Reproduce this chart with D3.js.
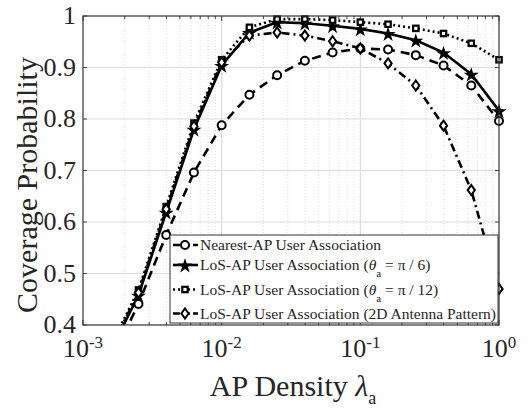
<!DOCTYPE html>
<html>
<head>
<meta charset="utf-8">
<script src="https://cdn.jsdelivr.net/npm/d3@7"></script>
<style>
  body { margin: 0; background: #fff; }
  svg text { font-family: 'Liberation Serif', 'Times New Roman', Times, serif; fill: #262626; }
</style>
</head>
<body>
<div id="graphicContainer"></div>
<script>

// x positions as log10 of AP density
const logX = [-2.8, -2.6, -2.4, -2.2, -2.0, -1.8, -1.6, -1.4, -1.2, -1.0, -0.8, -0.6, -0.4, -0.2, 0]

const nearest = [0.33, 0.441, 0.575, 0.696, 0.788, 0.847, 0.885, 0.913, 0.929, 0.937, 0.935, 0.924, 0.904, 0.865, 0.796]
const losPi6 = [0.35, 0.458, 0.619, 0.780, 0.904, 0.968, 0.988, 0.986, 0.981, 0.975, 0.966, 0.953, 0.929, 0.887, 0.816]
const losPi12 = [0.36, 0.468, 0.630, 0.792, 0.915, 0.978, 0.994, 0.994, 0.992, 0.988, 0.984, 0.976, 0.966, 0.947, 0.915]
const los2D = [0.355, 0.463, 0.625, 0.786, 0.910, 0.962, 0.968, 0.962, 0.951, 0.937, 0.908, 0.865, 0.787, 0.662, 0.470]

const yTicks = [0.4, 0.5, 0.6, 0.7, 0.8, 0.9, 1]
const xTickExp = [-3, -2, -1, 0]

const series = [
  { values: nearest, marker: "circle", dash: "9,6", label: "Nearest-AP User Association" },
  { values: losPi6, marker: "star", dash: null, label: "LoS-AP User Association (", theta: "6" },
  { values: losPi12, marker: "square", dash: "2,3", label: "LoS-AP User Association (", theta: "12" },
  { values: los2D, marker: "diamond", dash: "8,4,2,4", label: "LoS-AP User Association (2D Antenna Pattern)" }
]

const W = 529, H = 409
const margin = { left: 83, right: 30, top: 16, bottom: 84 }
const width = W - margin.left - margin.right
const height = H - margin.top - margin.bottom

const svg = d3.select("#graphicContainer").append("svg")
  .attr("width", W)
  .attr("height", H)
  .attr("font-family", "'Liberation Serif', 'Times New Roman', serif")

const x = d3.scaleLog().domain([1e-3, 1]).range([margin.left, margin.left + width])
const y = d3.scaleLinear().domain([0.4, 1]).range([margin.top + height, margin.top])

svg.append("defs").append("clipPath").attr("id", "plotClip")
  .append("rect")
  .attr("x", margin.left).attr("y", margin.top)
  .attr("width", width).attr("height", height)

// minor grid
const minorVals = []
for (let e = -3; e < 0; e++) {
  for (let m = 2; m <= 9; m++) minorVals.push(m * Math.pow(10, e))
}

svg.append("g")
  .selectAll("line")
  .data(minorVals)
  .enter()
  .append("line")
  .attr("x1", d => x(d)).attr("x2", d => x(d))
  .attr("y1", margin.top).attr("y2", margin.top + height)
  .style("stroke", "#d6d6d6")
  .style("stroke-width", 0.8)
  .style("stroke-dasharray", "1,2")

// major grid
svg.append("g")
  .selectAll("line")
  .data(xTickExp.slice(1, -1))
  .enter()
  .append("line")
  .attr("x1", d => x(Math.pow(10, d))).attr("x2", d => x(Math.pow(10, d)))
  .attr("y1", margin.top).attr("y2", margin.top + height)
  .style("stroke", "#dcdcdc")
  .style("stroke-width", 1.2)

svg.append("g")
  .selectAll("line")
  .data(yTicks.slice(1, -1))
  .enter()
  .append("line")
  .attr("x1", margin.left).attr("x2", margin.left + width)
  .attr("y1", d => y(d)).attr("y2", d => y(d))
  .style("stroke", "#dcdcdc")
  .style("stroke-width", 1.2)

// ticks (inside)
const tickG = svg.append("g").style("stroke", "#444").style("stroke-width", 1)
yTicks.forEach(t => {
  tickG.append("line").attr("x1", margin.left).attr("x2", margin.left + 4).attr("y1", y(t)).attr("y2", y(t))
  tickG.append("line").attr("x1", margin.left + width - 4).attr("x2", margin.left + width).attr("y1", y(t)).attr("y2", y(t))
})
const allX = minorVals.concat(xTickExp.map(e => Math.pow(10, e)))
allX.forEach(v => {
  const len = minorVals.includes(v) ? 3 : 5
  tickG.append("line").attr("x1", x(v)).attr("x2", x(v)).attr("y1", margin.top + height).attr("y2", margin.top + height - len)
  tickG.append("line").attr("x1", x(v)).attr("x2", x(v)).attr("y1", margin.top).attr("y2", margin.top + len)
})

// lines
const lineGen = d3.line()
  .x((d, i) => x(Math.pow(10, logX[i])))
  .y(d => y(d))

const plot = svg.append("g").attr("clip-path", "url(#plotClip)")

series.forEach(s => {
  plot.append("path")
    .datum(s.values)
    .attr("d", lineGen)
    .attr("fill", "none")
    .style("stroke", "#000")
    .style("stroke-width", 2.6)
    .style("stroke-dasharray", s.dash)
})

const starPath = d3.symbol().type(d3.symbolStar).size(70)()
const diamondPath = "M0,-5L3.6,0L0,5L-3.6,0Z"

function drawMarker(g, type, cx, cy) {
  if (type == "circle") {
    g.append("circle").attr("cx", cx).attr("cy", cy).attr("r", 4)
      .attr("fill", "#fff").style("stroke", "#000").style("stroke-width", 2)
  } else if (type == "star") {
    g.append("path").attr("d", starPath).attr("transform", `translate(${cx},${cy + 1})`)
      .attr("fill", "#000")
  } else if (type == "square") {
    g.append("rect").attr("x", cx - 2.7).attr("y", cy - 2.7).attr("width", 5.4).attr("height", 5.4)
      .attr("fill", "#fff").style("stroke", "#000").style("stroke-width", 2.2)
  } else {
    g.append("path").attr("d", diamondPath).attr("transform", `translate(${cx},${cy})`)
      .attr("fill", "#fff").style("stroke", "#000").style("stroke-width", 2)
  }
}

const markerG = svg.append("g")
series.forEach(s => {
  s.values.forEach((v, i) => {
    if (v >= 0.4) drawMarker(markerG, s.marker, x(Math.pow(10, logX[i])), y(v))
  })
})

// legend
const legX = 170, legY = 235, legW = 328, legH = 88
const leg = svg.append("g")
leg.append("rect")
  .attr("x", legX).attr("y", legY).attr("width", legW).attr("height", legH)
  .attr("fill", "#fff").style("stroke", "#333").style("stroke-width", 1)

const rowY = [245, 265, 289.5, 313.5]
series.forEach((s, i) => {
  const ry = rowY[i]
  leg.append("line")
    .attr("x1", legX + 3).attr("x2", legX + 28).attr("y1", ry).attr("y2", ry)
    .style("stroke", "#000").style("stroke-width", 2.6)
    .style("stroke-dasharray", s.dash ? (s.marker == "square" ? "2,3" : "7,3") : null)
  drawMarker(leg, s.marker, legX + 15, ry)
  const t = leg.append("text")
    .attr("x", legX + 30).attr("y", ry + 5)
    .style("font-size", "15.5px")
  t.append("tspan").text(s.label)
  if (s.theta) {
    t.append("tspan").style("font-style", "italic").text("θ")
    t.append("tspan").attr("dy", 7).style("font-size", "11px").text("a")
    t.append("tspan").attr("dy", -7).text(" = π / " + s.theta + ")")
  }
})

// frame
svg.append("rect")
  .attr("x", margin.left).attr("y", margin.top).attr("width", width).attr("height", height)
  .attr("fill", "none").style("stroke", "#333").style("stroke-width", 1.2)

// tick labels
svg.append("g")
  .selectAll("text")
  .data(yTicks)
  .enter()
  .append("text")
  .attr("x", margin.left - 7)
  .attr("y", d => y(d) + 8)
  .attr("text-anchor", "end")
  .style("font-size", "26px")
  .text(d => d == 1 ? "1" : d.toFixed(1))

const xl = svg.append("g")
  .selectAll("text")
  .data(xTickExp)
  .enter()
  .append("text")
  .attr("x", d => x(Math.pow(10, d)))
  .attr("y", margin.top + height + 32)
  .attr("text-anchor", "middle")
  .style("font-size", "26px")
xl.append("tspan").text("10")
xl.append("tspan").attr("dy", -9).style("font-size", "17px").text(d => d == 0 ? "0" : "-" + Math.abs(d))

// axis titles
const xt = svg.append("text")
  .attr("x", 293)
  .attr("y", 396)
  .attr("text-anchor", "middle")
  .style("font-size", "30px")
xt.append("tspan").text("AP Density ")
xt.append("tspan").style("font-style", "italic").text("λ")
xt.append("tspan").attr("dy", 8).style("font-size", "18px").text("a")

svg.append("text")
  .attr("transform", `translate(37,185) rotate(-90)`)
  .attr("text-anchor", "middle")
  .style("font-size", "30px")
  .text("Coverage Probability")

</script>
</body>
</html>
